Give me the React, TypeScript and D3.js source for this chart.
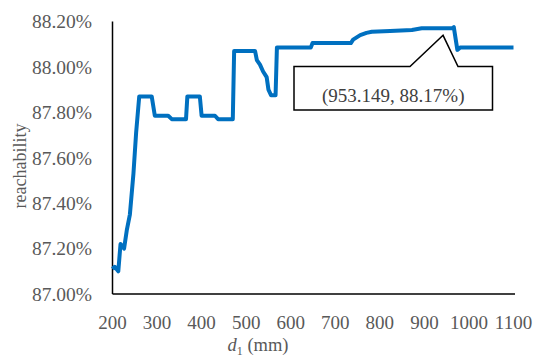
import React from "react";
import * as d3 from "d3";

// d1 (mm) and reachability (%)
const d1 = [200, 205, 213, 218, 226, 232, 239, 247, 253, 260, 288, 295, 325, 333, 365, 368, 396, 400, 430, 437, 470, 473, 520, 524, 531, 538, 546, 550, 556, 566, 569, 645, 649, 735, 740, 748, 756, 770, 782, 823, 872, 894, 953, 962, 966, 974, 980, 1100];
const reach = [87.11, 87.12, 87.1, 87.22, 87.2, 87.28, 87.35, 87.53, 87.71, 87.87, 87.87, 87.785, 87.785, 87.77, 87.77, 87.87, 87.87, 87.785, 87.785, 87.77, 87.77, 88.07, 88.07, 88.03, 88.01, 87.98, 87.955, 87.9, 87.875, 87.875, 88.085, 88.085, 88.105, 88.105, 88.12, 88.13, 88.14, 88.15, 88.155, 88.158, 88.163, 88.17, 88.17, 88.17, 88.175, 88.075, 88.085, 88.085];

const xTicks = [200, 300, 400, 500, 600, 700, 800, 900, 1000, 1100];
const yTicks = [87.0, 87.2, 87.4, 87.6, 87.8, 88.0, 88.2];

const peak = { x: 953.149, y: 88.17 };

const width = 533;
const height = 358;
const font = "'Liberation Serif', 'Times New Roman', serif";

export default function App() {
  const x = d3.scaleLinear().domain([200, 1100]).range([112.5, 513.5]);
  const y = d3.scaleLinear().domain([87.0, 88.2]).range([294, 21.5]);

  const pts = d1.map((d, i) => [d, reach[i]] as [number, number]);
  const line = d3.line<[number, number]>()
    .x(d => x(d[0]))
    .y(d => y(d[1]));

  // callout box
  const bx0 = 294, bx1 = 492.5, by0 = 66.5, by1 = 110;
  const tipX = x(peak.x) - 5;
  const tipY = y(peak.y) + 7;
  const callout = `M${bx0},${by0} L410,${by0} L${tipX},${tipY} L458,${by0} L${bx1},${by0} L${bx1},${by1} L${bx0},${by1} Z`;

  return (
    <svg width={width} height={height} style={{ position: "absolute", left: 0, top: 0, background: "#fff" }}>
      <rect width={width} height={height} fill="#fff" />
      {/* axes */}
      <line x1={x(200)} x2={x(200)} y1={y(88.2)} y2={y(87.0)} stroke="#000" strokeWidth={1.5} />
      <line x1={x(200)} x2={x(1100) + 1.5} y1={y(87.0)} y2={y(87.0)} stroke="#000" strokeWidth={1.5} />

      {yTicks.map(t => (
        <text key={t} x={92} y={y(t)} dy="0.35em" textAnchor="end" fontFamily={font} fontSize={19.5} fill="#595959">
          {t.toFixed(2)}%
        </text>
      ))}
      {xTicks.map(t => (
        <text key={t} x={x(t)} y={329} textAnchor="middle" fontFamily={font} fontSize={19} fill="#595959">
          {t}
        </text>
      ))}

      <text transform="translate(26,166) rotate(-90)" textAnchor="middle" fontFamily={font} fontSize={18} fill="#595959">
        reachability
      </text>
      <text x={258} y={351} textAnchor="middle" fontFamily={font} fontSize={18.5} fill="#595959">
        <tspan fontStyle="italic">d</tspan>
        <tspan fontSize={12} dy={4}>1</tspan>
        <tspan dy={-4}> (mm)</tspan>
      </text>

      <path d={line(pts) ?? ""} fill="none" stroke="#0070C0" strokeWidth={4} strokeLinejoin="round" />

      <path d={callout} fill="#fff" stroke="#000" strokeWidth={1.5} />
      <text x={(bx0 + bx1) / 2} y={95} dy="0.35em" textAnchor="middle" fontFamily={font} fontSize={19} fill="#404040">
        ({peak.x}, {peak.y.toFixed(2)}%)
      </text>
    </svg>
  );
}
